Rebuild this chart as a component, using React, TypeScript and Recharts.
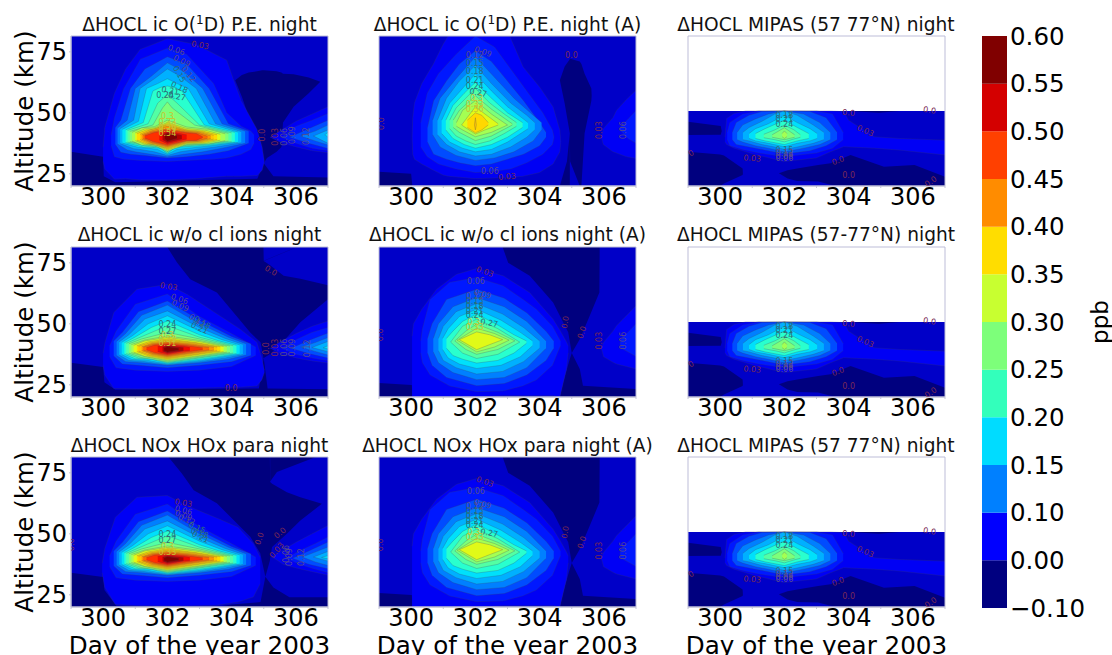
import React from 'react';
import { Area, Bar, BarChart, ComposedChart, ReferenceArea, Scatter, XAxis, YAxis } from 'recharts';

type Pt = [number, number, number]; // day, lower altitude, upper altitude
type Band = [number, Pt[]]; // contour level, outline
type Lbl = [string, number, number, number]; // text, day, altitude, tilt

const dayTicks = [299, 300, 301, 302, 303, 304, 305, 306, 307];
const altTicks = [25, 50, 75];

const levels = [-0.03, 0, 0.03, 0.06, 0.09, 0.12, 0.15, 0.18, 0.21, 0.24, 0.27, 0.3, 0.33, 0.36, 0.39, 0.42, 0.45, 0.48, 0.51, 0.54, 0.57];
const levelColors = ['#00007f', '#0000c8', '#0000f5', '#0018ff', '#004cff', '#0080ff', '#00b0ff', '#00e0fb', '#29ffce', '#53ffa4', '#7dff7a', '#a4ff53', '#e0fa18', '#ffd800', '#ffc400', '#ff9400', '#ff6800', '#ff3000', '#f10800', '#b20000', '#7f0000'];

const barLabels = ['\u22120.10', '0.00', '0.10', '0.15', '0.20', '0.25', '0.30', '0.35', '0.40', '0.45', '0.50', '0.55', '0.60'];
const barColors = ['#000080', '#0000ff', '#0080ff', '#00dcff', '#33ffbb', '#7dff7a', '#c8ff30', '#ffdd00', '#ff8c00', '#ff4000', '#d40000', '#800000'];

const baseFull: Band = [0, [[299, 20, 81.5], [307, 20, 81.5]]];
const baseMipas: Band = [0, [[299, 20, 50.8], [307, 20, 50.8]]];

// row 1, left
const bandsO1D: Band[] = [
  baseFull,
  [-0.03, [[299, 20, 34], [300, 20, 32], [300.02, 20, 24], [300.38, 20, 21.5], [304.8, 20, 23], [305, 20, 29.3], [305.3, 20, 24], [307, 20, 23.5]]],
  [-0.03, [[304.11, 63.4, 63.4], [304.32, 56.6, 65.5], [304.53, 48.4, 66.5], [304.79, 38.8, 67], [304.95, 31, 67.5], [305, 29.3, 67.5], [305.1, 31.5, 67.4], [305.4, 34, 67], [305.55, 36, 66.5], [305.6, 46, 66], [305.93, 52.5, 65.8], [306.4, 58, 64.5], [306.76, 62.7, 62.7]]],
  [0.03, [[300, 30, 36], [300.05, 27, 44], [300.35, 22.8, 58], [300.7, 23, 68], [301.15, 22.5, 76], [302, 22.5, 80.4], [302.9, 23, 78], [303.85, 24, 71.6], [304.05, 24, 64], [304.3, 24, 55], [304.8, 24.3, 43], [304.95, 26.5, 36], [305.02, 30, 30]]],
  [0.03, [[305.2, 40, 40], [305.5, 38, 42.5], [306, 36, 46.5], [306.5, 34.5, 49.5], [307, 33.6, 52.5]]],
  [0.06, [[305.55, 40, 40], [306, 37.5, 44.5], [306.5, 35.5, 47], [307, 34.5, 49.7]]],
  [0.09, [[305.8, 40, 40], [306.4, 37.5, 43.5], [307, 35.4, 47]]],
  [0.12, [[306.15, 40.5, 40.5], [306.6, 38.5, 42.5], [307, 36.8, 45]]],
  [0.15, [[306.55, 40.5, 40.5], [307, 37.5, 43]]],
  [0.18, [[306.9, 41, 41], [307, 40, 42]]],
  [0.06, [[300.25, 36.5, 41], [300.35, 32, 48], [300.64, 31, 60], [301.16, 30.5, 72], [302, 30, 76.5], [302.6, 30.5, 74], [303.44, 31, 62], [303.85, 31.5, 50], [304.3, 33, 44.5], [304.6, 35, 42.5], [304.7, 37.5, 41]]],
  [0.09, [[300.38, 37, 44], [300.55, 33.8, 47], [300.85, 33, 60], [301.3, 32.5, 68], [302, 31.5, 73], [302.6, 32, 70], [303.3, 33, 60], [303.9, 34.5, 45.5], [304.53, 37.5, 42.5]]],
  [0.12, [[300.45, 37.2, 43.8], [300.75, 34.8, 47], [301, 34, 60], [301.5, 33, 65], [302, 32, 70.5], [302.5, 33, 67], [303.1, 34, 60], [303.7, 35.5, 45.5], [304.42, 37.5, 42.5]]],
  [0.15, [[300.53, 37.4, 43.5], [300.95, 35.3, 47], [301.15, 35, 60], [301.6, 34, 64], [302, 32.5, 68], [302.4, 34, 65], [302.9, 35, 60], [303.5, 36, 45.5], [304.3, 37.7, 42.3]]],
  [0.18, [[300.6, 37.6, 43.2], [301.1, 35.8, 46.5], [301.35, 35.6, 60], [301.7, 35, 62], [302, 33, 64], [302.3, 35, 62], [302.65, 35.5, 60], [303.3, 36.4, 45.5], [304.2, 37.9, 42.1]]],
  [0.21, [[300.7, 37.8, 43], [301.25, 36, 46], [301.55, 35.8, 59], [301.8, 35.5, 60.5], [302, 33.3, 61], [302.2, 35.5, 60.5], [302.45, 36, 59], [303.15, 36.6, 45], [304.1, 38, 42]]],
  [0.24, [[300.76, 38, 42.8], [301.4, 36.2, 45.5], [301.7, 36, 54], [302, 33.7, 57.5], [302.3, 36.2, 54], [303, 36.8, 45], [304, 38.2, 41.8]]],
  [0.27, [[300.83, 38.2, 42.4], [301.55, 36.4, 45], [301.85, 36.2, 52], [302, 34, 54.5], [302.15, 36.4, 52], [302.85, 37, 45], [303.9, 38.4, 41.6]]],
  [0.3, [[300.9, 38.4, 42], [301.2, 36.8, 43.8], [301.6, 36.6, 44.3], [302, 34.3, 47], [302.6, 37, 44.2], [303.3, 37.3, 43.2], [303.8, 38.6, 41.4]]],
  [0.33, [[301, 38.6, 41.8], [301.3, 37.1, 43.4], [301.6, 37, 43.8], [302, 34.8, 46], [302.6, 37.3, 43.6], [303.2, 37.6, 42.8], [303.65, 38.8, 41.2]]],
  [0.36, [[301.05, 38.8, 41.5], [301.35, 37.3, 43], [301.6, 37.2, 43.3], [302, 35.2, 45.5], [302.6, 37.6, 43.1], [303.1, 37.8, 42.5], [303.55, 39, 41]]],
  [0.39, [[301.15, 39, 41.2], [301.4, 37.5, 42.7], [302, 35.6, 45], [302.6, 37.8, 42.8], [303.05, 38.1, 42.2], [303.44, 39.2, 40.8]]],
  [0.42, [[301.2, 39.2, 41], [301.45, 37.7, 42.4], [302, 36, 44.5], [302.6, 38.1, 42.5], [303, 38.3, 42], [303.35, 39.4, 40.6]]],
  [0.45, [[301.25, 39.4, 40.8], [301.5, 37.9, 42.1], [302, 36.4, 43.5], [302.6, 38.4, 42.1], [302.95, 38.5, 41.7], [303.25, 39.6, 40.4]]],
  [0.48, [[301.3, 39.6, 40.6], [301.55, 38.2, 41.8], [302, 36.8, 43], [302.6, 38.6, 41.8], [302.9, 38.7, 41.5], [303.1, 39.8, 40.2]]],
  [0.51, [[301.75, 38.8, 41.2], [302, 37.3, 42.5], [302.6, 39.2, 41]]],
  [0.54, [[301.85, 39, 41], [302, 37.8, 42], [302.45, 39.3, 40.8]]],
  [0.57, [[301.92, 39.3, 40.8], [302, 38.3, 41.5], [302.3, 39.5, 40.5]]],
];

// row 1, middle
const bandsO1DAvg: Band[] = [
  baseFull,
  [-0.03, [[299, 20, 25.8], [300, 20, 25], [300.04, 20, 20]]],
  [-0.03, [[304.63, 20, 20], [304.85, 20, 30], [304.94, 20, 41.6]]],
  [-0.03, [[304.63, 63.4, 63.4], [304.78, 53.8, 69], [304.94, 41.6, 72], [304.95, 30, 72.2], [305.25, 20, 71], [305.3, 20, 70], [305.4, 41.6, 66], [305.61, 55, 60], [305.62, 57, 57]]],
  [0.03, [[300.03, 40, 40], [300.05, 33, 48], [300.1, 31, 54], [300.33, 29, 62], [300.69, 26.5, 70], [300.99, 24.5, 78], [301.15, 24, 81.5], [302, 23, 81.5], [303.07, 23.5, 81.5], [303.49, 24, 68.8], [304, 25.5, 60.6], [304.42, 29, 52.5], [304.63, 34, 43], [304.66, 38, 38]]],
  [0.03, [[305.92, 40, 40], [305.98, 37, 43.5], [306.28, 34, 48], [306.39, 33.5, 51], [306.7, 32, 55.5], [307, 31.3, 59.3]]],
  [0.06, [[306.5, 43, 44], [306.75, 39.5, 47.5], [307, 37.5, 51]]],
  [0.06, [[300.3, 36, 46], [300.5, 32, 58], [300.85, 29, 66], [301.4, 27, 74], [302, 25.5, 81.5], [302.6, 26, 77], [303.1, 27, 68], [303.6, 29.5, 59], [304.1, 33, 50], [304.4, 37, 43], [304.45, 40, 40]]],
  [0.09, [[300.51, 38, 44], [300.7, 33, 55], [301.1, 31, 63], [301.5, 29.5, 70], [302, 28.3, 75.5], [302.5, 29, 71], [303, 31, 63], [303.5, 33, 55], [304, 36.5, 46], [304.2, 40, 42]]],
  [0.12, [[300.67, 41, 47], [300.9, 36, 56], [301.4, 32.5, 64], [302, 30.5, 73], [302.6, 31.5, 64.5], [303.2, 34, 56], [303.8, 38.5, 49], [304.06, 43, 46]]],
  [0.15, [[300.82, 41, 47], [301.1, 37, 56], [301.5, 34, 63], [302, 32.3, 69.5], [302.5, 33, 62], [303.1, 36, 54], [303.6, 40, 49], [303.85, 43, 46]]],
  [0.18, [[300.95, 41.5, 47], [301.2, 38, 54], [301.6, 35.5, 60], [302, 34, 66], [302.5, 35, 59], [303, 38, 52.5], [303.64, 43.5, 46]]],
  [0.21, [[301.08, 43, 47], [301.3, 39.5, 53], [301.65, 37, 58], [302, 35.5, 62.5], [302.5, 37, 56], [303, 40, 50], [303.47, 44, 46]]],
  [0.24, [[301.2, 43.5, 47], [301.4, 40.5, 52], [301.7, 38.5, 56], [302, 37, 60], [302.45, 38.5, 54], [302.9, 41.5, 49.5], [303.28, 44.5, 46]]],
  [0.27, [[301.31, 44, 47], [301.5, 42, 51], [302, 38.6, 57], [302.5, 40.5, 51.5], [303.15, 45, 45.5]]],
  [0.3, [[301.41, 44.5, 46], [301.6, 43, 51], [302, 40.2, 55], [302.5, 42, 49.5], [303, 45, 45]]],
  [0.33, [[301.57, 45, 45], [302, 41.3, 52.5], [302.3, 43, 49.5], [302.71, 45, 45.5]]],
  [0.36, [[301.75, 44, 47], [302, 41.8, 50], [302.2, 43, 49], [302.4, 45, 46]]],
  [0.39, [[301.97, 45, 45], [302, 43, 48], [302.03, 45, 45]]],
];

// rows 2 and 3, left: same core above 0.06
const coreNoIons: Band[] = [
  [0.06, [[300.2, 36.5, 41], [300.4, 32, 47], [301, 31, 58], [302, 30.5, 62.2], [303, 31, 53], [304, 32.5, 46], [304.75, 37, 40.5]]],
  [0.09, [[300.33, 36.8, 43], [300.6, 33.5, 46.5], [301.1, 33, 55], [302, 32, 59.4], [303, 33, 51.5], [304, 34.5, 44.8], [304.6, 37, 41.8]]],
  [0.12, [[300.42, 37, 42.8], [300.7, 34.5, 46], [301.2, 34, 53.5], [302, 33, 57.7], [303, 34, 50], [303.9, 35.5, 44.5], [304.45, 37.2, 41.8]]],
  [0.15, [[300.5, 37.2, 42.6], [300.8, 35, 45.5], [301.3, 34.5, 52], [302, 33.2, 55.3], [303, 34.5, 48.5], [303.8, 36, 44], [304.35, 37.4, 41.6]]],
  [0.18, [[300.58, 37.4, 42.4], [300.9, 35.4, 45], [301.4, 35, 50], [302, 33.5, 53.3], [303, 35, 47], [303.7, 36.4, 43.5], [304.25, 37.6, 41.4]]],
  [0.21, [[300.66, 37.6, 42.2], [301, 35.7, 44.6], [301.5, 35.5, 48.5], [302, 33.8, 51.2], [303, 35.5, 45.5], [303.6, 36.6, 43], [304.15, 37.8, 41.2]]],
  [0.24, [[300.72, 37.8, 42], [301.1, 36, 44.2], [301.6, 35.8, 47], [302, 34.1, 49.2], [303, 36, 44.5], [304.05, 38, 41]]],
  [0.27, [[300.8, 38, 41.8], [301.2, 36.2, 43.8], [302, 34.4, 46.5], [303, 36.3, 43.8], [303.95, 38.2, 40.9]]],
  [0.3, [[300.88, 38.2, 41.5], [301.3, 36.5, 43.4], [302, 34.8, 45], [303, 36.7, 43.2], [303.85, 38.4, 40.8]]],
  [0.33, [[300.95, 38.4, 41.2], [301.3, 36.7, 43], [302, 35.2, 44.4], [303, 37, 42.7], [303.75, 38.6, 40.7]]],
  [0.36, [[301.05, 38.6, 41], [301.4, 36.9, 42.6], [302, 35.6, 43.8], [302.9, 37.3, 42.3], [303.65, 38.8, 40.6]]],
  [0.39, [[301.1, 38.8, 40.8], [301.45, 37.2, 42.2], [302, 36, 43.3], [302.9, 37.6, 42], [303.55, 39, 40.5]]],
  [0.42, [[301.2, 39, 40.6], [301.5, 37.5, 41.9], [302, 36.4, 42.8], [302.8, 37.9, 41.7], [303.45, 39.2, 40.4]]],
  [0.45, [[301.25, 39.2, 40.5], [301.55, 37.8, 41.6], [302, 36.8, 42.3], [302.7, 38.1, 41.4], [303.3, 39.3, 40.3]]],
  [0.48, [[301.35, 39.3, 40.3], [301.6, 38.1, 41.3], [302, 37.2, 41.8], [302.6, 38.4, 41.1], [303.1, 39.4, 40.2]]],
  [0.51, [[301.7, 38.6, 40.8], [302, 37.6, 41.4], [302.5, 38.8, 40.8], [302.7, 39, 40.4]]],
  [0.54, [[301.85, 38.8, 40.5], [302, 38, 41], [302.5, 39, 40.3]]],
  [0.57, [[301.9, 39, 40.2], [302, 38.4, 40.6], [302.35, 39.2, 40]]],
];

const bandsNoIons: Band[] = [
  baseFull,
  [-0.03, [[299, 20, 34], [300, 20, 32.3], [300.04, 20, 26], [300.38, 20, 23], [304.85, 20, 23.5], [305, 20, 36], [305.12, 20, 23.5], [307, 20, 23.2]]],
  [-0.03, [[302, 81.4, 81.5], [302.3, 75.1, 81.5], [302.71, 68.3, 81.5], [303.54, 62.8, 81.5], [304.06, 54.6, 81.5], [304.58, 46.4, 81.5], [304.9, 42.4, 81.5], [304.99, 36, 81.5], [305, 36, 75.8], [305.2, 37.6, 74], [305.62, 43, 69.7], [306.14, 50.6, 68.5], [307, 60.1, 65.8]]],
  [-0.03, [[305, 75.8, 75.9], [306.03, 81.4, 81.5]]],
  [0.03, [[300, 33, 38], [300.05, 29, 42], [300.33, 23.5, 54.6], [301.05, 23.3, 64.2], [302, 23.4, 66.2], [302.6, 23.5, 62.2], [303.44, 23.8, 55], [304.27, 24, 47.8], [304.79, 24.5, 42.4], [304.94, 27, 36], [305.02, 30, 31]]],
  [0.03, [[305.2, 40, 40], [305.5, 38, 42.5], [306, 36, 46], [306.5, 34.8, 49], [307, 33.9, 51.2]]],
  [0.06, [[305.55, 40, 40], [306, 37.5, 43.5], [306.5, 36, 46.5], [307, 34.9, 48.5]]],
  [0.09, [[305.85, 40, 40], [306.4, 37.8, 43.2], [307, 36, 46.2]]],
  [0.12, [[306.15, 40.5, 40.5], [306.6, 38.7, 42.3], [307, 37.2, 44.4]]],
  [0.15, [[306.5, 40.3, 40.3], [307, 38.6, 42.8]]],
  [0.18, [[306.85, 40.2, 40.2], [307, 39.7, 41]]],
  ...coreNoIons,
];

const bandsPara: Band[] = [
  baseFull,
  [-0.03, [[299, 20, 34], [300, 20, 32.3], [300.04, 20, 27], [300.43, 20, 20.2], [303.5, 20, 20], [304, 20, 21], [304.9, 20, 22], [305.05, 20, 32.4], [305.3, 20, 28], [305.8, 20, 24], [307, 20, 24]]],
  [-0.03, [[302.04, 81.4, 81.5], [302.45, 74.7, 81.5], [302.82, 67.9, 81.5], [303.54, 62.5, 81.5], [304.06, 55.7, 81.5], [304.58, 48.8, 81.5], [304.89, 42, 81.5], [305.05, 32.4, 81.5], [305.19, 39, 81.5], [305.2, 40, 71.2], [305.26, 44.6, 70.5], [305.72, 50, 67], [306.14, 55.5, 65], [306.81, 62.3, 62.3]]],
  [-0.03, [[305.2, 71.5, 81.5], [305.41, 75.3, 81.5], [306.6, 81.4, 81.5], [306.65, 81.5, 81.5]]],
  [0.03, [[299.97, 34, 38], [300.05, 28, 44], [300.38, 21, 56.8], [301.05, 20.5, 65], [302, 20.4, 65.7], [302.6, 20.4, 61.6], [303.54, 20.7, 56.5], [304.2, 22, 52.7], [304.68, 24.1, 45.9], [304.89, 29.5, 40.5]]],
  [0.03, [[305.26, 40.5, 40.5], [305.6, 37.5, 43.5], [306, 36, 46.5], [306.5, 34.5, 50], [307, 33, 53.4]]],
  [0.06, [[305.7, 40, 40], [306.1, 37.5, 43], [306.6, 35.5, 46], [307, 34, 48.7]]],
  [0.09, [[305.9, 40, 40], [306.4, 37.5, 43], [307, 35.7, 46.6]]],
  [0.12, [[306.2, 40.5, 40.5], [306.6, 38.5, 42.5], [307, 37, 44.6]]],
  [0.15, [[306.55, 40.5, 40.5], [307, 38.8, 42.8]]],
  [0.18, [[306.8, 40.3, 40.3], [307, 39.8, 41.1]]],
  ...coreNoIons,
];

// rows 2 and 3, middle
const bandsAvg: Band[] = [
  baseFull,
  [-0.03, [[299, 20, 25.7], [300.02, 20, 24.9], [300.05, 20, 20]]],
  [-0.03, [[304.63, 20, 20], [304.73, 20, 26], [304.94, 20, 35.6], [305, 20, 38], [305.25, 20, 31.5], [305.35, 20, 24.6], [307, 20, 23.3]]],
  [-0.03, [[302.85, 81.4, 81.5], [303.02, 75, 81.5], [303.69, 69.7, 81.5], [304.42, 58.7, 81.5], [304.89, 46.5, 81.5], [305, 38, 81.5], [305.25, 43.7, 81.5], [305.56, 53.3, 81.5], [305.86, 62.8, 81.5], [305.87, 81.5, 81.5]]],
  [0.03, [[300.03, 20, 45], [300.07, 20, 50], [300.33, 20, 56], [300.79, 20, 64.2], [301.41, 20, 70.3], [302.04, 20, 72.7], [302.87, 20.5, 69.7], [303.69, 20.5, 62.8], [304.42, 20.5, 51.9], [304.63, 20, 47.5], [304.84, 31.5, 42.5], [304.89, 38, 41]]],
  [0.03, [[305.92, 40, 40], [305.99, 36.5, 42.4], [306.28, 34.2, 47], [306.39, 33.5, 49.2], [307, 31.5, 57.4]]],
  [0.06, [[306.5, 42, 42], [306.54, 40, 43.7], [307, 36.6, 50]]],
  [0.06, [[300.3, 38, 43], [300.35, 34, 48], [300.59, 29, 60], [301.2, 24.5, 67], [302.04, 22.2, 69], [302.87, 22.5, 65.6], [303.49, 24.6, 60], [303.9, 27, 56], [304.4, 33, 49], [304.65, 41, 43]]],
  [0.09, [[300.51, 38, 44], [300.65, 33, 50], [301.1, 28, 60], [302.04, 24.6, 64.2], [302.9, 25.5, 60.5], [303.6, 29, 54.5], [304.2, 35, 47], [304.44, 40, 43]]],
  [0.12, [[300.69, 38.5, 44], [300.85, 34, 50], [301.3, 30, 57], [302.04, 27.1, 60.8], [302.9, 28, 57], [303.6, 32, 51], [304.2, 40, 43]]],
  [0.15, [[300.85, 39, 44], [301, 35, 49], [301.4, 32, 55], [302.04, 29.4, 58.3], [302.85, 30.5, 54], [303.5, 34.5, 48.5], [304, 40, 43]]],
  [0.18, [[300.98, 39.5, 44], [301.15, 36, 48], [301.5, 33.5, 53], [302.04, 31.7, 56], [302.8, 33, 51.5], [303.4, 36.5, 46.5], [303.78, 41, 43]]],
  [0.21, [[301.1, 40, 44], [301.3, 37, 47], [301.6, 35.5, 51], [302.04, 33.9, 54], [302.7, 35, 49.5], [303.2, 38, 45.5], [303.59, 42, 43]]],
  [0.24, [[301.23, 42.5, 42.5], [301.6, 38, 49], [302.04, 35.8, 51.9], [302.7, 37.5, 48], [303.38, 42.5, 42.5]]],
  [0.27, [[301.36, 43, 43], [301.7, 39.5, 47], [302.04, 37.5, 49.9], [302.7, 39.5, 46.5], [303.23, 43, 43]]],
  [0.3, [[301.43, 43.3, 43.3], [302.04, 38.5, 48.2], [302.6, 40.5, 46], [303.05, 43.3, 43.3]]],
  [0.33, [[301.5, 43.5, 43.5], [302.04, 39.4, 46.7], [302.45, 41.5, 45.5], [302.85, 43.5, 43.5]]],
];

// right column, same data in all rows
const bandsMipas: Band[] = [
  baseMipas,
  [-0.03, [[299, 40.9, 46.3], [300.02, 41, 44.6], [300.05, 42.5, 42.5]]],
  [-0.03, [[299, 20, 34], [300, 20, 32.9], [300.12, 21, 32.5], [300.7, 24.5, 27.2], [300.71, 25, 25]]],
  [-0.03, [[301.83, 25.2, 25.2], [302.1, 23.1, 26.5], [302.4, 22, 27.2], [303.05, 21.8, 28.6], [303.44, 20.5, 29.3], [304.06, 20, 32.7], [305.1, 20, 27.9], [306.05, 20, 28.6], [307, 20, 23.8]]],
  [-0.03, [[304, 50.8, 50.8], [304.95, 50, 50.8], [305.6, 50.8, 50.8]]],
  [0.03, [[300.15, 38, 40], [300.2, 37, 47.7], [300.43, 35.5, 49.7], [300.8, 34, 50.8], [301.05, 33, 50.8], [301.99, 30, 50.8], [303, 31.5, 50.8], [303.44, 34, 50.8], [303.85, 36.1, 50.5], [304, 36, 47], [304.79, 35.5, 40.2], [305.6, 34.7, 39.5], [307, 32.7, 38.8]]],
  [0.06, [[300.22, 39, 42], [300.3, 36.5, 46], [300.7, 35, 49.5], [301.2, 33.5, 50.8], [302, 32, 50.8], [303, 33.5, 50.8], [303.5, 35.5, 49.5], [303.83, 39, 42]]],
  [0.09, [[300.38, 39, 42], [300.5, 37, 46], [300.9, 36, 49], [301.3, 35, 50.5], [302, 33.1, 50.8], [302.8, 34.5, 50.5], [303.3, 36.5, 48], [303.64, 39, 42]]],
  [0.12, [[300.53, 39, 42], [300.7, 38, 45], [301.1, 36.5, 47.5], [301.5, 35.5, 49.5], [302, 34, 50.8], [302.6, 35.5, 49.5], [303.1, 37, 46], [303.43, 39, 42]]],
  [0.15, [[300.71, 39, 42], [300.9, 38.5, 44], [301.3, 37, 46.5], [301.7, 36, 49.5], [302, 35, 50.8], [302.4, 36, 49], [302.9, 37.5, 45], [303.23, 39, 42]]],
  [0.18, [[300.9, 39.5, 41.5], [301.1, 38.5, 43.5], [301.5, 37.5, 45.5], [302, 36.1, 49], [302.4, 37.5, 46], [302.8, 38.5, 43.5], [303.02, 39.5, 41.5]]],
  [0.21, [[301.1, 39.5, 41.5], [301.4, 38.5, 43.5], [302, 37, 47], [302.4, 38.5, 44], [302.76, 39.5, 41.5]]],
  [0.24, [[301.36, 39.8, 41.2], [301.7, 39, 43], [302, 38.1, 45], [302.3, 39.3, 43], [302.5, 40, 41]]],
  [0.27, [[301.62, 40, 41], [302, 39, 43.9], [302.32, 40, 41]]],
  [0.3, [[301.93, 40.2, 41.5], [302, 39.5, 42.6], [302.08, 40.2, 41.5]]],
];

const labelsO1D: Lbl[] = [
  ['0.03', 303.02, 77.7, 10], ['0.06', 302.28, 75.7, 20], ['0.09', 302.45, 71.2, 25], ['0.12', 302.66, 65.8, 50], ['0.15', 302.37, 65.8, 60],
  ['0.18', 302.37, 60.4, 25], ['0.21', 302.09, 59, 10], ['0.24', 301.93, 57, 0], ['0.27', 302.3, 56.6, 10], ['0.3', 302, 48.4, 0],
  ['0.33', 302, 46, 0], ['0.36', 302, 44.5, 0], ['0.39', 302, 43, 0], ['0.54', 302, 41.5, 0],
  ['0.0', 304.97, 40.9, -90], ['0.03', 305.36, 40.2, -90], ['0.06', 305.64, 40.2, -90], ['0.09', 305.9, 40.9, -90], ['0.12', 306.34, 40.5, -90],
];
const labelsO1DAvg: Lbl[] = [
  ['0.09', 302.24, 75, 20], ['0.12', 301.98, 73.6, 0], ['0.15', 301.98, 70.2, 0], ['0.18', 301.98, 66.8, 0], ['0.21', 301.98, 63.4, 0],
  ['0.24', 301.98, 60.9, 0], ['0.27', 302.09, 58.2, 10], ['0.3', 302.04, 55.9, 0], ['0.33', 301.98, 53.6, 0], ['0.36', 301.98, 51.4, 0],
  ['0.06', 302.45, 25.9, 0], ['0.03', 302.99, 23.8, -5], ['0.0', 304.99, 73.6, 0], ['0.03', 305.87, 42.9, -90], ['0.06', 306.6, 42.9, -90], ['0.0', 299.08, 45.6, -90],
];
const labelsNoIons: Lbl[] = [
  ['0.03', 302.04, 65.2, 10], ['0.06', 302.38, 60.1, 20], ['0.09', 302.4, 57.4, 25], ['0.12', 302.92, 51.2, 35], ['0.18', 303.08, 50.5, 30], ['0.21', 303, 48.2, 25],
  ['0.24', 302, 49.6, 0], ['0.27', 302, 47, 0], ['0.3', 302, 45.4, 0], ['0.33', 302, 43.5, 0], ['0.51', 302, 42, 0],
  ['0.0', 305.1, 39.9, -90], ['0.03', 305.36, 40.3, -90], ['0.06', 305.64, 40.3, -90], ['0.09', 305.91, 40.3, -90], ['0.12', 306.35, 40, -90],
  ['0.0', 303.99, 23.3, 0], ['0.0', 305.22, 71.7, 30],
];
const labelsPara: Lbl[] = [
  ['0.03', 302.5, 62.6, 10], ['0.06', 302.5, 59.6, 15], ['0.09', 302.5, 57.5, 20], ['0.12', 302.6, 55.7, 20], ['0.15', 302.92, 52.5, 25], ['0.18', 303, 50.3, 20], ['0.21', 303.03, 48.6, 25],
  ['0.24', 302, 49.7, 0], ['0.27', 302, 47.3, 0], ['0.3', 302, 44.8, 0], ['0.33', 302, 42.5, 0],
  ['0.0', 299.03, 45.6, -90], ['0.0', 304.87, 48, -70], ['0.0', 305.51, 50.3, -40], ['0.03', 305.41, 43.2, -50], ['0.06', 305.72, 41.8, -90], ['0.09', 305.8, 40.5, -90], ['0.12', 306.19, 40.5, -90],
];
const labelsAvg: Lbl[] = [
  ['0.03', 302.3, 71.3, 20], ['0.06', 302.02, 67.2, 0], ['0.09', 302.22, 62.2, 15], ['0.12', 301.98, 61.2, 0], ['0.15', 301.98, 59, 0], ['0.18', 301.98, 57.1, 0],
  ['0.21', 301.98, 55, 0], ['0.24', 301.98, 53.3, 0], ['0.3', 301.95, 50.6, 0], ['0.27', 302.43, 50.3, 10], ['0.33', 301.98, 48.5, 0],
  ['0.0', 304.8, 50.6, -80], ['0.0', 305.32, 46.5, -70], ['0.03', 305.87, 43.1, -90], ['0.06', 306.6, 43.1, -90], ['0.0', 299.05, 45.5, -90],
];
const labelsMipas: Lbl[] = [
  ['0.18', 302, 48.8, 0], ['0.21', 302, 47.3, 0], ['0.24', 302, 45.4, 0], ['0.15', 302, 34.5, 0], ['0.12', 302, 33.4, 0], ['0.09', 302, 32.3, 0], ['0.06', 302, 31.3, 0],
  ['0.03', 301, 31.3, 5], ['0.0', 304, 50, 5], ['0.03', 304.52, 42.6, 25], ['0.0', 303.67, 30.4, -20], ['0.0', 304, 24.5, 0], ['0.0', 306.52, 51, 10], ['0.0', 306.56, 21.8, -35], ['0', 299.1, 33.4, -30],
];

const FONT = '"DejaVu Sans", sans-serif';

function labelColor(text: string) {
  const v = parseFloat(text);
  if (v <= 0.03) return '#7a2a55';
  if (v <= 0.12) return '#584a8c';
  if (v <= 0.27) return '#2c6f78';
  return '#c9c430';
}

function ContourLabel(props: any) {
  const { cx, cy, payload } = props;
  return (
    <text
      x={cx}
      y={cy}
      fontSize={8}
      fontFamily={FONT}
      textAnchor="middle"
      dominantBaseline="central"
      fill={labelColor(payload.text)}
      transform={`rotate(${payload.tilt},${cx},${cy})`}
    >
      {payload.text}
    </text>
  );
}

function Title({ children, cx, top }: { children: React.ReactNode; cx: number; top: number }) {
  return (
    <div style={{ position: 'absolute', left: cx - 170, top, width: 340, textAlign: 'center', fontSize: 18.6, lineHeight: '22px', color: '#111', whiteSpace: 'nowrap' }}>
      {children}
    </div>
  );
}

const PLOT_W = 257;
const PLOT_H = 150;

function ContourPanel({ x, y, bands, labels, first, bottom }: { x: number; y: number; bands: Band[]; labels: Lbl[]; first?: boolean; bottom?: boolean }) {
  const labelData = labels.map(([text, day, alt, tilt]) => ({ text, day, alt, tilt }));
  return (
    <div style={{ position: 'absolute', left: x - 70, top: y - 6 }}>
      <ComposedChart width={PLOT_W + 76} height={PLOT_H + 6 + 60} margin={{ top: 6, right: 6, bottom: 0, left: first ? 0 : 70 }} style={{ overflow: 'visible' }}>
        <XAxis
          dataKey="day"
          type="number"
          domain={[299, 307]}
          ticks={dayTicks}
          interval={0}
          height={60}
          allowDataOverflow
          tickFormatter={(d: number) => (d % 2 === 0 ? String(d) : '')}
          tick={{ fontSize: 24, fill: '#000', fontFamily: FONT }}
          tickSize={2}
          tickMargin={0}
          stroke="#c4c4d8"
          label={bottom ? { value: 'Day of the year 2003', position: 'insideBottom', offset: 13, fontSize: 24.6, fill: '#000', fontFamily: FONT } : undefined}
        />
        <YAxis
          dataKey="alt"
          type="number"
          domain={[20, 81.5]}
          ticks={altTicks}
          interval={0}
          width={70}
          hide={!first}
          allowDataOverflow
          tick={{ fontSize: 24, fill: '#000', fontFamily: FONT }}
          tickSize={2}
          tickMargin={2}
          stroke="#c4c4d8"
          label={{ value: 'Altitude (km)', angle: -90, position: 'insideLeft', offset: 23, textAnchor: 'middle', fontSize: 24.6, fill: '#000', fontFamily: FONT }}
        />
        {bands.map(([level, pts], i) => (
          <Area
            key={i}
            data={pts.map(([day, lo, hi]) => ({ day, band: [lo, hi] }))}
            dataKey="band"
            type="linear"
            fill={levelColors[levels.indexOf(level)]}
            fillOpacity={1}
            stroke={level > 0 ? 'rgba(60,60,90,0.35)' : 'none'}
            strokeWidth={0.7}
            dot={false}
            activeDot={false}
            isAnimationActive={false}
          />
        ))}
        <ReferenceArea x1={299} x2={307} y1={20} y2={81.5} fill="none" stroke="#bdbdd8" strokeWidth={1} ifOverflow="visible" />
        <Scatter data={labelData} dataKey="alt" shape={ContourLabel} isAnimationActive={false} />
      </ComposedChart>
    </div>
  );
}

function ColorBar() {
  const row: Record<string, number | string> = { name: 'ppb' };
  barColors.forEach((_, i) => {
    row[`s${i}`] = 1;
  });
  return (
    <div style={{ position: 'absolute', left: 970, top: 16 }}>
      <BarChart width={142} height={612} data={[row]} margin={{ top: 20, right: 0, bottom: 20, left: 12 }} barCategoryGap={0}>
        <XAxis dataKey="name" hide />
        <YAxis
          orientation="right"
          type="number"
          domain={[0, 12]}
          ticks={barLabels.map((_, i) => i)}
          interval={0}
          width={105}
          tickFormatter={(i: number) => barLabels[i]}
          tick={{ fontSize: 24.5, fill: '#000', fontFamily: FONT, textAnchor: 'start' }}
          tickLine={false}
          axisLine={false}
          tickMargin={-3}
          label={{ value: 'ppb', angle: -90, position: 'insideRight', offset: 12, textAnchor: 'middle', fontSize: 23, fill: '#000', fontFamily: FONT }}
        />
        {barColors.map((c, i) => (
          <Bar key={c} dataKey={`s${i}`} stackId="cb" fill={c} isAnimationActive={false} />
        ))}
      </BarChart>
    </div>
  );
}

const O1D = <>O(<sup style={{ fontSize: 12, lineHeight: 0 }}>1</sup>D)</>;

export default function App() {
  return (
    <div style={{ position: 'absolute', left: 0, top: 0, width: 1112, height: 655, overflow: 'hidden', background: '#fff', fontFamily: FONT }}>
      <ContourPanel x={71} y={36} bands={bandsO1D} labels={labelsO1D} first />
      <ContourPanel x={379} y={36} bands={bandsO1DAvg} labels={labelsO1DAvg} />
      <ContourPanel x={687.5} y={36} bands={bandsMipas} labels={labelsMipas} />
      <ContourPanel x={71} y={246.5} bands={bandsNoIons} labels={labelsNoIons} first />
      <ContourPanel x={379} y={246.5} bands={bandsAvg} labels={labelsAvg} />
      <ContourPanel x={687.5} y={246.5} bands={bandsMipas} labels={labelsMipas} />
      <ContourPanel x={71} y={457} bands={bandsPara} labels={labelsPara} first bottom />
      <ContourPanel x={379} y={457} bands={bandsAvg} labels={labelsAvg} bottom />
      <ContourPanel x={687.5} y={457} bands={bandsMipas} labels={labelsMipas} bottom />
      <Title cx={199.5} top={14}>ΔHOCL ic {O1D} P.E. night</Title>
      <Title cx={507.5} top={14}>ΔHOCL ic {O1D} P.E. night (A)</Title>
      <Title cx={816} top={14}>ΔHOCL MIPAS (57 77°N) night</Title>
      <Title cx={199.5} top={224}>ΔHOCL ic w/o cl ions night</Title>
      <Title cx={507.5} top={224}>ΔHOCL ic w/o cl ions night (A)</Title>
      <Title cx={816} top={224}>ΔHOCL MIPAS (57-77°N) night</Title>
      <Title cx={199.5} top={435}>ΔHOCL NOx HOx para night</Title>
      <Title cx={507.5} top={435}>ΔHOCL NOx HOx para night (A)</Title>
      <Title cx={816} top={435}>ΔHOCL MIPAS (57 77°N) night</Title>
      <ColorBar />
    </div>
  );
}
